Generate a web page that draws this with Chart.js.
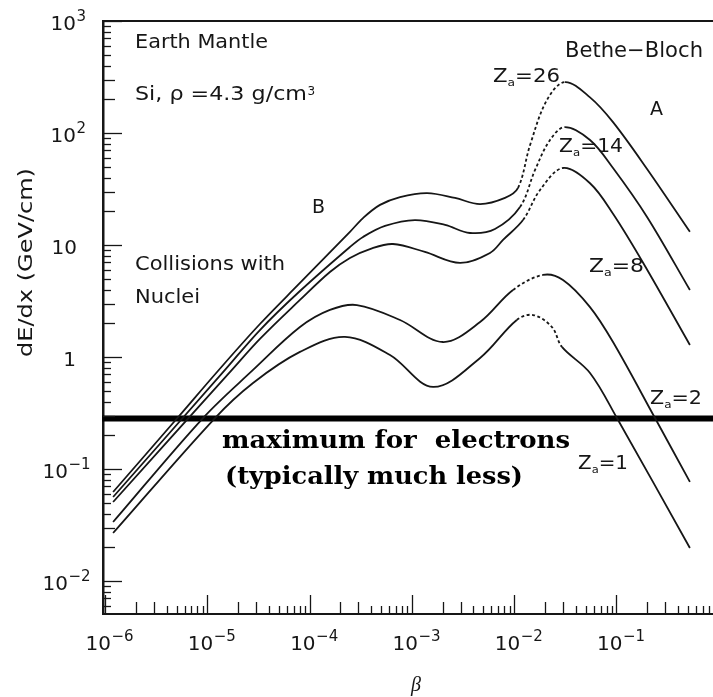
<!DOCTYPE html>
<html><head><meta charset="utf-8">
<script src="https://cdn.jsdelivr.net/npm/chart.js@4.4.1/dist/chart.umd.min.js"></script>
<style>html,body{margin:0;padding:0;background:#fff;overflow:hidden}canvas{display:block}</style>
</head><body>
<canvas id="c" width="713" height="697"></canvas>
<script>
// ---- data (beta, dE/dx in GeV/cm) ----
const beta26 = [1.2e-6, 5.2e-6, 1.27e-5, 3.27e-5, 8.05e-5, 2.48e-4, 3.33e-4, 4.88e-4, 7.66e-4, 1.41e-3, 2.64e-3, 4.64e-3, 8.13e-3, 1.09e-2, 1.43e-2, 2.09e-2, 3.14e-2, 5.51e-2, 9.25e-2, 0.199, 0.522];
const dedx26 = [0.0623, 0.291, 0.750, 1.97, 4.58, 13.1, 17.4, 22.8, 26.8, 29.1, 26.3, 23.2, 26.3, 32.3, 78.1, 197, 285, 208, 125, 47.7, 13.1];
const dash26 = [1.09e-2, 3.14e-2];

const beta14 = [1.2e-6, 1.49e-5, 3.27e-5, 8.05e-5, 2.48e-4, 3.33e-4, 5.46e-4, 1.07e-3, 2.11e-3, 3.70e-3, 6.49e-3, 1.14e-2, 1.60e-2, 2.24e-2, 3.14e-2, 5.51e-2, 9.25e-2, 0.199, 0.522];
const dedx14 = [0.0562, 0.766, 1.74, 3.88, 9.6, 11.8, 14.8, 16.7, 15.1, 12.8, 13.9, 21.8, 46.8, 86.6, 113, 86.6, 48.7, 17.8, 3.96];
const dash14 = [1.14e-2, 3.14e-2];

const beta8 = [1.2e-6, 1.74e-5, 3.27e-5, 8.05e-5, 1.58e-4, 2.48e-4, 3.89e-4, 6.53e-4, 1.34e-3, 2.95e-3, 5.80e-3, 7.78e-3, 1.22e-2, 1.79e-2, 3.0e-2, 5.51e-2, 9.25e-2, 0.182, 0.522];
const dedx8 = [0.0507, 0.766, 1.45, 3.23, 5.74, 7.66, 9.2, 10.2, 8.66, 6.91, 8.49, 11.1, 16.7, 31.0, 48.7, 35.6, 19.0, 6.94, 1.28];
const dash8 = [1.22e-2, 3.0e-2];

const beta2 = [1.2e-6, 9.08e-6, 2.80e-5, 8.05e-5, 1.58e-4, 2.90e-4, 7.66e-4, 2.01e-3, 4.64e-3, 9.73e-3, 1.91e-2, 3.0e-2, 5.51e-2, 9.25e-2, 0.238, 0.522];
const dedx2 = [0.0336, 0.285, 0.766, 1.85, 2.63, 2.91, 2.14, 1.36, 2.05, 3.96, 5.40, 4.87, 2.79, 1.36, 0.285, 0.0766];
const dash2 = [9.73e-3, 1.91e-2];

const beta1 = [1.2e-6, 1.19e-5, 2.80e-5, 8.05e-5, 2.22e-4, 6.11e-4, 1.61e-3, 4.64e-3, 1.06e-2, 1.53e-2, 2.34e-2, 2.93e-2, 5.51e-2, 0.101, 0.522];
const dedx1 = [0.0268, 0.285, 0.586, 1.11, 1.51, 1.04, 0.54, 0.98, 2.14, 2.37, 1.85, 1.23, 0.72, 0.285, 0.0197];
const dash1 = [1.06e-2, 2.93e-2];

const electronMaxBeta = [9.4e-7, 0.878];
const electronMaxValue = [0.282, 0.282];

const xLabelDecades = [-6, -5, -4, -3, -2, -1];
const yLabelDecades = [-2, -1, 0, 1, 2, 3];
const X_MIN = 9.56e-7, X_MAX = 0.878, Y_MIN = 0.00507, Y_MAX = 1000;

const INK = '#161616';
const SANS = '"DejaVu Sans"';

const curves = [
  {b: beta26, v: dedx26, dash: dash26},
  {b: beta14, v: dedx14, dash: dash14},
  {b: beta8,  v: dedx8,  dash: dash8},
  {b: beta2,  v: dedx2,  dash: dash2},
  {b: beta1,  v: dedx1,  dash: dash1}
];

const datasets = curves.map(c => ({
  data: c.b.map((b, i) => ({x: b, y: c.v[i]})),
  borderColor: INK, borderWidth: 1.8, pointRadius: 0, fill: false,
  tension: 0.35,
  borderJoinStyle: 'round',
  segment: {
    borderDash: ctx => (c.b[ctx.p0DataIndex] >= c.dash[0] * 0.999 && c.b[ctx.p1DataIndex] <= c.dash[1] * 1.001) ? [3, 2.5] : undefined
  }
}));
datasets.push({
  data: electronMaxBeta.map((b, i) => ({x: b, y: electronMaxValue[i]})),
  borderColor: '#000', borderWidth: 6, pointRadius: 0, fill: false, tension: 0, clip: 6
});

function fitText(ctx, text, font, x, y, w) {
  ctx.font = font;
  const m = ctx.measureText(text).width;
  ctx.save(); ctx.translate(x, y); ctx.scale(w ? w / m : 1, 1);
  ctx.textAlign = 'left'; ctx.textBaseline = 'alphabetic';
  ctx.fillText(text, 0, 0); ctx.restore();
}
function zLabel(ctx, num, x, y, w) {
  const parts = [['Z', '19px ' + SANS, 0], ['a', '11px ' + SANS, 4], ['=' + num, '19px ' + SANS, 0]];
  let tot = 0;
  parts.forEach(p => { ctx.font = p[1]; p.push(ctx.measureText(p[0]).width); tot += p[3]; });
  const s = w / tot;
  ctx.save(); ctx.translate(x, y); ctx.scale(s, 1);
  ctx.textAlign = 'left'; ctx.textBaseline = 'alphabetic';
  let cx = 0;
  parts.forEach(p => { ctx.font = p[1]; ctx.fillText(p[0], cx, p[2]); cx += p[3]; });
  ctx.restore();
}

const decor = {
  id: 'decor',
  afterDatasetsDraw(chart) {
    const {ctx, chartArea: a, scales: {x, y}} = chart;
    ctx.save();
    ctx.strokeStyle = INK; ctx.fillStyle = INK;
    ctx.lineWidth = 2;
    ctx.beginPath(); ctx.moveTo(a.left, a.top); ctx.lineTo(a.right, a.top); ctx.stroke();
    ctx.lineWidth = 1.3;
    const tl = k => k === 1 ? 19 : (k === 2 || k === 3 ? 12 : 8);
    for (let d = -7; d <= 0; d++) for (let k = 1; k <= 9; k++) {
      const v = k * Math.pow(10, d);
      if (v < x.min || v > x.max) continue;
      const px = Math.round(x.getPixelForValue(v)) + 0.5;
      ctx.beginPath(); ctx.moveTo(px, a.bottom); ctx.lineTo(px, a.bottom - tl(k)); ctx.stroke();
    }
    for (let d = -3; d <= 3; d++) for (let k = 1; k <= 9; k++) {
      const v = k * Math.pow(10, d);
      if (v < y.min || v > y.max) continue;
      const py = Math.round(y.getPixelForValue(v)) + 0.5;
      ctx.beginPath(); ctx.moveTo(a.left, py); ctx.lineTo(a.left + tl(k), py); ctx.stroke();
    }
    ctx.textBaseline = 'alphabetic';
    xLabelDecades.forEach(d => {
      const px = x.getPixelForValue(Math.pow(10, d));
      ctx.font = '20px ' + SANS; ctx.textAlign = 'right'; ctx.fillText('10', px + 6, 650);
      ctx.font = '15px ' + SANS; ctx.textAlign = 'left'; ctx.fillText('\u2212' + (-d), px + 6.5, 641);
    });
    yLabelDecades.forEach(d => {
      const py = y.getPixelForValue(Math.pow(10, d));
      ctx.font = '20px ' + SANS; ctx.textAlign = 'right';
      if (d === 0) { ctx.fillText('1', 76, py + 9); return; }
      if (d === 1) { ctx.fillText('10', 77, py + 9); return; }
      const xe = d > 0 ? 76 : 68;
      ctx.fillText('10', xe, py + 9);
      ctx.font = '15px ' + SANS; ctx.textAlign = 'left';
      ctx.fillText(d > 0 ? String(d) : '\u2212' + (-d), xe + 0.5, py);
    });
    ctx.save(); ctx.translate(32, 357); ctx.rotate(-Math.PI / 2);
    fitText(ctx, 'dE/dx (GeV/cm)', '20px ' + SANS, 0, 0, 189);
    ctx.restore();
    ctx.font = 'italic 20px "Liberation Serif"'; ctx.textAlign = 'center';
    ctx.fillText('\u03b2', 416, 691);
    ctx.textAlign = 'left';
    fitText(ctx, 'Earth Mantle', '20px ' + SANS, 135, 48, 133);
    fitText(ctx, 'Si, \u03c1 =4.3 g/cm', '20px ' + SANS, 135, 100, 172);
    ctx.font = '12px ' + SANS; ctx.fillText('3', 307.5, 95);
    fitText(ctx, 'Bethe\u2212Bloch', '21px ' + SANS, 565, 57, 138);
    zLabel(ctx, '26', 493, 82, 67);
    fitText(ctx, 'A', '19px ' + SANS, 650, 115);
    zLabel(ctx, '14', 559, 152, 64);
    fitText(ctx, 'B', '19px ' + SANS, 312, 213);
    fitText(ctx, 'Collisions with', '20px ' + SANS, 135, 270, 150);
    fitText(ctx, 'Nuclei', '20px ' + SANS, 135, 303, 65);
    zLabel(ctx, '8', 589, 272, 55);
    zLabel(ctx, '2', 650, 404, 52);
    zLabel(ctx, '1', 578, 469, 50);
    ctx.fillStyle = '#000';
    fitText(ctx, 'maximum for  electrons', 'bold 25px "DejaVu Serif"', 222, 448, 348);
    fitText(ctx, '(typically much less)', 'bold 25px "DejaVu Serif"', 225, 484, 298);
    ctx.restore();
  }
};

new Chart(document.getElementById('c'), {
  type: 'line',
  data: {datasets},
  options: {
    responsive: false, animation: false, events: [],
    layout: {padding: {top: 21, left: 0, right: 0, bottom: 0}},
    plugins: {legend: {display: false}, tooltip: {enabled: false}},
    scales: {
      x: {
        type: 'logarithmic', min: X_MIN, max: X_MAX,
        grid: {display: false}, ticks: {display: false},
        border: {display: true, color: INK, width: 2},
        afterFit: s => { s.height = 83; }
      },
      y: {
        type: 'logarithmic', min: Y_MIN, max: Y_MAX,
        grid: {display: false}, ticks: {display: false},
        border: {display: true, color: INK, width: 2.5},
        afterFit: s => { s.width = 103; }
      }
    }
  },
  plugins: [decor]
});
</script>
</body></html>
